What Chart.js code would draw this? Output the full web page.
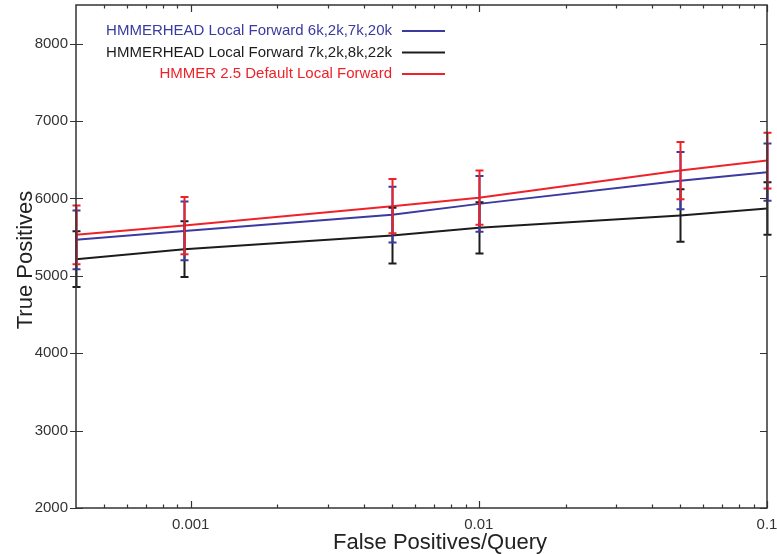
<!DOCTYPE html>
<html><head><meta charset="utf-8">
<script src="https://cdn.jsdelivr.net/npm/chart.js@4.4.0/dist/chart.umd.min.js"></script>
<style>html,body{margin:0;padding:0;background:#fff}#wrap{width:777px;height:554px}</style>
</head><body><div id="wrap"><canvas id="c" width="777" height="554"></canvas></div>
<script>
// ---- data ----
const xValues = [0.0004, 0.00095, 0.005, 0.01, 0.05, 0.1];
const blueValues = [5465, 5580, 5790, 5930, 6230, 6340];
const blueErr    = [380, 380, 360, 360, 370, 370];
const blackValues = [5215, 5345, 5520, 5620, 5780, 5870];
const blackErr    = [360, 360, 360, 330, 340, 340];
const redValues = [5530, 5650, 5900, 6010, 6360, 6490];
const redErr    = [380, 370, 350, 350, 370, 360];
const seriesLabels = ['HMMERHEAD Local Forward 6k,2k,7k,20k', 'HMMERHEAD Local Forward 7k,2k,8k,22k', 'HMMER 2.5 Default Local Forward'];
const xMajorTicks = [0.001, 0.01, 0.1];
const xTickLabels = ['0.001', '0.01', '0.1'];
const xMinorTicks = [0.0005,0.0006,0.0007,0.0008,0.0009,0.002,0.003,0.004,0.005,0.006,0.007,0.008,0.009,0.02,0.03,0.04,0.05,0.06,0.07,0.08,0.09];
const yTicks = [2000, 3000, 4000, 5000, 6000, 7000, 8000];
const xTitle = 'False Positives/Query';
const yTitle = 'True Positives';

const colors = { blue: '#3a3aa0', black: '#1c1c1c', red: '#ee2228' };
const axisColor = '#333333';
const FONT = '"Liberation Sans", Arial, Helvetica, sans-serif';

function pts(vals){ return xValues.map((x,i)=>({x:x, y:vals[i]})); }

const datasets = [
  {label: seriesLabels[2], data: pts(redValues), err: redErr, borderColor: colors.red, order: 0},
  {label: seriesLabels[0], data: pts(blueValues), err: blueErr, borderColor: colors.blue, order: 1},
  {label: seriesLabels[1], data: pts(blackValues), err: blackErr, borderColor: colors.black, order: 2}
].map(d => Object.assign(d, {borderWidth: 2, pointRadius: 0, tension: 0, fill: false}));

const legendItems = [
  {text: seriesLabels[0], color: colors.blue},
  {text: seriesLabels[1], color: colors.black},
  {text: seriesLabels[2], color: colors.red}
];

const decor = {
  id: 'decor',
  afterDatasetsDraw(chart) {
    const {ctx, chartArea: ca, scales: {x, y}} = chart;
    ctx.save();
    const drawOrder = [2, 1, 0];
    drawOrder.forEach(di => {
      const ds = chart.data.datasets[di];
      ctx.strokeStyle = ds.borderColor;
      ctx.lineWidth = 2;
      ds.data.forEach((p, i) => {
        const px = Math.round(x.getPixelForValue(p.x)) + 0.5;
        const yt = y.getPixelForValue(p.y + ds.err[i]);
        const yb = y.getPixelForValue(p.y - ds.err[i]);
        ctx.beginPath();
        ctx.moveTo(px, yt); ctx.lineTo(px, yb);
        ctx.moveTo(px - 4, yt); ctx.lineTo(px + 4, yt);
        ctx.moveTo(px - 4, yb); ctx.lineTo(px + 4, yb);
        ctx.stroke();
      });
    });
    ctx.strokeStyle = axisColor;
    ctx.lineWidth = 1.5;
    ctx.strokeRect(ca.left, ca.top, ca.right - ca.left, ca.bottom - ca.top);
    ctx.lineWidth = 1.2;
    ctx.beginPath();
    const xt = (v, len) => {
      const px = Math.round(x.getPixelForValue(v)) + 0.5;
      ctx.moveTo(px, ca.bottom); ctx.lineTo(px, ca.bottom - len);
      ctx.moveTo(px, ca.top); ctx.lineTo(px, ca.top + len);
    };
    xMajorTicks.forEach(v => xt(v, 7));
    xMinorTicks.forEach(v => xt(v, 3.5));
    yTicks.forEach(v => {
      const py = Math.round(y.getPixelForValue(v)) + 0.5;
      ctx.moveTo(ca.left - 6, py); ctx.lineTo(ca.left + 7, py);
      ctx.moveTo(ca.right, py); ctx.lineTo(ca.right - 7, py);
    });
    ctx.stroke();
    ctx.font = '15px ' + FONT;
    ctx.textAlign = 'right';
    ctx.textBaseline = 'middle';
    legendItems.forEach((it, i) => {
      const ly = ca.top + 26 + i * 21.5;
      ctx.fillStyle = it.color;
      ctx.fillText(it.text, ca.left + 316, ly);
      ctx.strokeStyle = it.color;
      ctx.lineWidth = 2;
      ctx.beginPath();
      ctx.moveTo(ca.left + 326, ly); ctx.lineTo(ca.left + 369, ly);
      ctx.stroke();
    });
    ctx.fillStyle = '#222';
    ctx.font = '22px ' + FONT;
    ctx.textAlign = 'center';
    ctx.textBaseline = 'alphabetic';
    ctx.fillText(xTitle, 440, 549);
    ctx.translate(32, 260);
    ctx.rotate(-Math.PI / 2);
    ctx.fillText(yTitle, 0, 0);
    ctx.restore();
  }
};

new Chart(document.getElementById('c'), {
  type: 'line',
  data: { datasets },
  options: {
    responsive: false,
    animation: false,
    devicePixelRatio: 1,
    layout: { padding: { top: 5, right: 10, left: 0, bottom: 0 } },
    plugins: { legend: { display: false }, tooltip: { enabled: false } },
    scales: {
      x: {
        type: 'logarithmic',
        min: 0.0004, max: 0.1,
        grid: { display: false, drawTicks: false, tickLength: 0 }, border: { display: false },
        afterBuildTicks: s => { s.ticks = xMajorTicks.map(v => ({value: v, major: true})); },
        afterFit: s => { s.height = 46; s.paddingLeft = 0; s.paddingRight = 0; },
        ticks: {
          autoSkip: false, maxRotation: 0, padding: 8,
          color: '#333', font: { family: FONT, size: 15 },
          callback: (v) => { const k = xMajorTicks.findIndex(m => Math.abs(m - v) / m < 1e-6); return k >= 0 ? xTickLabels[k] : ''; }
        }
      },
      y: {
        type: 'linear',
        min: 2000, max: 8500,
        grid: { display: false, drawTicks: false, tickLength: 0 }, border: { display: false },
        afterBuildTicks: s => { s.ticks = yTicks.map(v => ({value: v})); },
        afterFit: s => { s.width = 76; s.paddingTop = 0; s.paddingBottom = 0; },
        ticks: { padding: 8, color: '#333', font: { family: FONT, size: 15 }, callback: v => String(v) }
      }
    }
  },
  plugins: [decor]
});
</script></body></html>
